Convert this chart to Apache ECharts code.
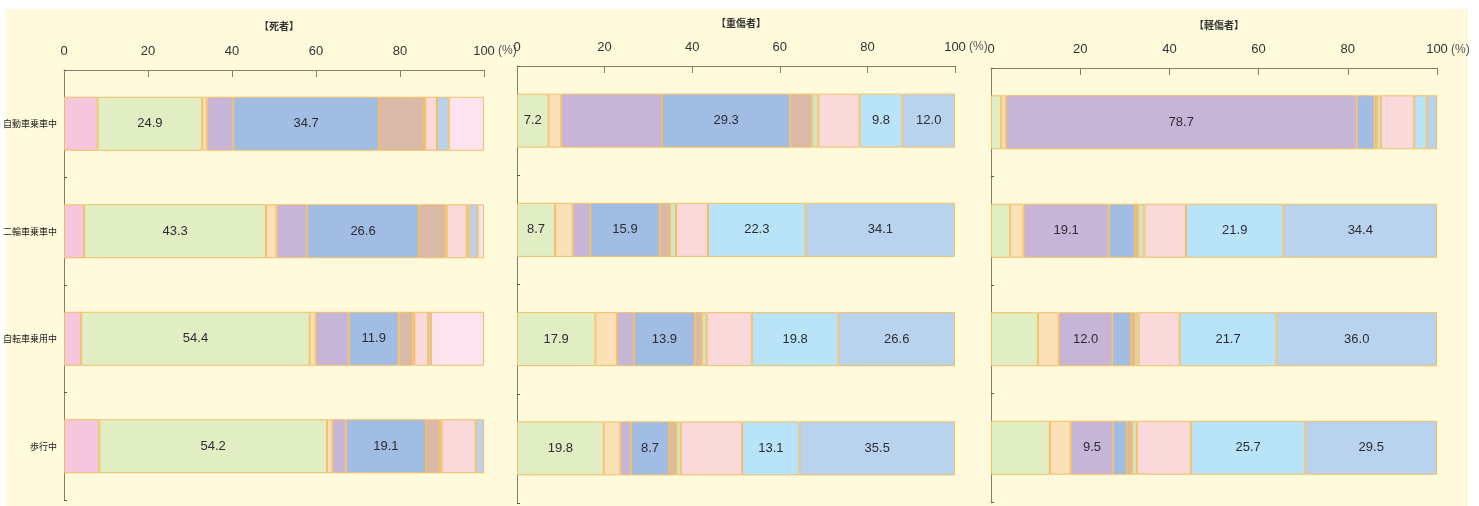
<!DOCTYPE html>
<html>
<head>
<meta charset="utf-8">
<script src="https://cdn.jsdelivr.net/npm/echarts@6/dist/echarts.min.js"></script>
<style>
  html, body { margin: 0; padding: 0; background: #fff; }
  #chart { width: 1479px; height: 506px; }
</style>
</head>
<body>
<div id="chart"></div>
<script>
document.addEventListener('DOMContentLoaded', function() {

    const categories = ['自動車乗車中', '二輪車乗車中', '自転車乗用中', '歩行中'];
    const parts = ['全損', '頭部', '顔部', '頸部', '胸部', '腹部', '背部', '腰部', '腕部', '脚部', 'その他'];
    const partColors = [
        '#f6c7dc', '#e1eec4', '#fbe1b8', '#c7b5d8', '#a2bde3', '#dab9a8',
        '#cfe7c6', '#f9d9d9', '#b8e3f8', '#b9d3ee', '#fbe4ee'
    ];
    const tickLabels = ['0', '20', '40', '60', '80', '100'];
    const panelTitles = ['【死者】', '【重傷者】', '【軽傷者】'];

    // 死者 (%) 部位順
    const deadCar  = [8.0, 24.9, 1.2, 6.2, 34.7, 10.8, 0.2, 2.8, 0, 2.8, 8.4];
    const deadMoto = [4.8, 43.3, 2.5, 7.3, 26.6, 6.3, 0.3, 4.8, 0.6, 2.0, 1.5];
    const deadBike = [4.1, 54.4, 1.4, 7.9, 11.9, 3.3, 0.4, 3.3, 0, 0.7, 12.6];
    const deadWalk = [8.4, 54.2, 1.3, 3.2, 19.1, 3.3, 0.4, 8.1, 0, 2.0, 0];

    // 重傷者
    const seriousCar  = [0, 7.2, 2.9, 23.0, 29.3, 4.9, 1.5, 9.4, 9.8, 12.0, 0];
    const seriousMoto = [0, 8.7, 4.0, 4.0, 15.9, 2.3, 1.4, 7.3, 22.3, 34.1, 0];
    const seriousBike = [0, 17.9, 4.9, 3.9, 13.9, 1.6, 1.1, 10.3, 19.8, 26.6, 0];
    const seriousWalk = [0, 19.8, 3.8, 2.4, 8.7, 1.6, 1.1, 14.0, 13.1, 35.5, 0];

    // 軽傷者
    const minorCar  = [0, 2.3, 1.0, 78.7, 4.0, 0.5, 0.9, 7.5, 2.8, 2.3, 0];
    const minorMoto = [0, 4.3, 3.0, 19.1, 5.9, 0.7, 1.4, 9.3, 21.9, 34.4, 0];
    const minorBike = [0, 10.5, 4.7, 12.0, 4.2, 1.0, 0.7, 9.2, 21.7, 36.0, 0];
    const minorWalk = [0, 13.2, 4.7, 9.5, 3.1, 1.1, 1.1, 12.1, 25.7, 29.5, 0];

    // 数値ラベルを出す部位
    const labelledParts = [
        ['頭部', '胸部'],
        ['頭部', '胸部', '腕部', '脚部'],
        ['頸部', '腕部', '脚部']
    ];

    const panels = [
        [deadCar, deadMoto, deadBike, deadWalk],
        [seriousCar, seriousMoto, seriousBike, seriousWalk],
        [minorCar, minorMoto, minorBike, minorWalk]
    ];

    const numFont = '"Liberation Sans", Arial, sans-serif';
    const jpFont = '"Noto Sans CJK JP", sans-serif';
    const axisColor = '#857c6c';

    const grids = [
        { left: 64, width: 420, top: 70, bottom: 6 },
        { left: 517, width: 438, top: 66, bottom: 3 },
        { left: 991, width: 446, top: 68, bottom: 4 }
    ];
    const labelY = [51, 47, 50];

    const xAxes = grids.map((g, i) => ({
        gridIndex: i,
        type: 'value',
        position: 'top',
        min: 0,
        max: 100,
        interval: 20,
        axisLine: { show: true, lineStyle: { color: axisColor, width: 1 } },
        axisTick: { show: true, inside: true, length: 7, lineStyle: { color: axisColor } },
        axisLabel: {
            margin: 12,
            color: '#333',
            fontFamily: numFont,
            fontSize: 13,
            formatter: v => tickLabels[v / 20]
        },
        splitLine: { show: false }
    }));

    const yAxes = grids.map((g, i) => ({
        gridIndex: i,
        type: 'category',
        inverse: true,
        data: categories,
        axisLine: { show: true, lineStyle: { color: axisColor, width: 1 } },
        axisTick: { show: true, inside: true, length: 3, lineStyle: { color: '#555' } },
        axisLabel: {
            show: i === 0,
            margin: 7,
            color: '#222',
            fontFamily: jpFont,
            fontSize: 9
        }
    }));

    const series = [];
    panels.forEach((rows, p) => {
        parts.forEach((part, j) => {
            series.push({
                name: part,
                type: 'bar',
                stack: 'panel' + p,
                xAxisIndex: p,
                yAxisIndex: p,
                barWidth: 54,
                data: rows.map(r => (r[j] ? r[j] : null)),
                itemStyle: {
                    color: partColors[j],
                    borderColor: '#f3bd62',
                    borderWidth: 1
                },
                label: {
                    show: labelledParts[p].includes(part),
                    position: 'inside',
                    color: '#2c2c34',
                    fontFamily: numFont,
                    fontSize: 13,
                    formatter: d => (d.value >= 5 ? d.value.toFixed(1) : '')
                },
                emphasis: { disabled: true }
            });
        });
    });

    const titles = panelTitles.map((t, i) => ({
        text: t,
        left: grids[i].left + grids[i].width / 2,
        top: [16, 13, 15][i],
        textAlign: 'center',
        textStyle: {
            color: '#333',
            fontFamily: jpFont,
            fontSize: 10,
            fontWeight: 'bold'
        }
    }));

    // 「100」の右に置く単位
    const unitTexts = grids.map((g, i) => ({
        type: 'text',
        silent: true,
        x: g.left + g.width + 14,
        y: labelY[i],
        style: {
            text: '(%)',
            fill: '#555',
            font: '12px ' + numFont,
            verticalAlign: 'middle'
        }
    }));

    const myChart = echarts.init(document.getElementById('chart'));
    myChart.setOption({
        animation: false,
        title: titles,
        graphic: [{
            type: 'rect',
            z: -10,
            silent: true,
            shape: { x: 6, y: 9, width: 1462, height: 497 },
            style: { fill: '#fefadb' }
        }].concat(unitTexts),
        grid: grids,
        xAxis: xAxes,
        yAxis: yAxes,
        series: series
    });

    window.addEventListener('resize', function() {
        myChart.resize();
    });
});
</script>
</body>
</html>
